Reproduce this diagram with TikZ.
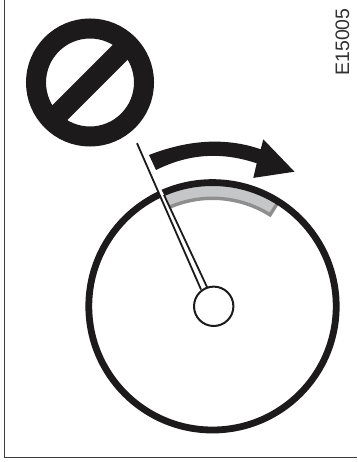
\documentclass[tikz,border=0pt]{standalone}
\usepackage{fontspec}
\setmainfont{Liberation Sans}
\definecolor{ink}{HTML}{1C1A1A}
\definecolor{bandfill}{HTML}{C4C6C8}
\definecolor{bandedge}{HTML}{8E8E8E}
\tikzset{
  framestyle/.style={draw=ink!85!white,line width=1.2pt},
  wheel/.style={draw=ink,line width=6.8pt},
  hubcircle/.style={draw=ink,line width=2pt,fill=white},
  needle/.style={draw=ink,line width=1.8pt},
  solidink/.style={fill=ink,draw=none}
}
\begin{document}
\begin{tikzpicture}[x=1pt,y=-1pt]
\useasboundingbox (0,0) rectangle (357,462);
\fill[white] (0,0) rectangle (357,462);
% frame
\draw[framestyle] (4.7,0) -- (4.7,457.8) -- (357,457.8);
% label
\node[rotate=90,inner sep=0pt,font=\fontsize{19.5}{19.5}\selectfont,text=ink!90!white] (code) at (342.5,42) {E15005};
% prohibition sign
\coordinate (signc) at (90,82.5);
\draw[ink,line width=20pt] (signc) circle (54);
\draw[ink,line width=21pt] (signc) ++(-38,38) -- ++(76,-76);
% curved arrow
\path[solidink] (149,155) .. controls (186,140.6) and (224,136.5) .. (260.7,149.3)
  -- (263.3,139.3) -- (294.5,171.7) -- (253.3,177.9) -- (256.7,163.3)
  .. controls (223,152) and (190,153) .. (156,170) -- cycle;
% gray band
\coordinate (wheelc) at (212.5,306.3);
\fill[bandfill] ([shift={(-116:122)}]wheelc) arc[start angle=-116,end angle=-58.5,radius=122]
  -- ([shift={(-58.5:108)}]wheelc) arc[start angle=-58.5,end angle=-116,radius=108] -- cycle;
\draw[bandedge,line width=3.4pt,miter limit=4] ([shift={(-114:108)}]wheelc) arc[start angle=-114,end angle=-57.8,radius=108]
  -- ([shift={(-57.8:122)}]wheelc);
% wheel
\draw[wheel] (wheelc) circle (123.7);
% needle
\coordinate (tip) at (137,143.2);
\coordinate (footl) at (201,289.5);
\coordinate (footr) at (207,287);
\coordinate (forkr) at (164,195);
\fill[white] (153,180) -- (156.5,180) -- (forkr) -- (footr) -- (footl) -- cycle;
\draw[needle] (tip) -- (footl);
\draw[needle] (forkr) -- (footr);
% hub
\node[circle,hubcircle,minimum size=39.4pt,inner sep=0pt] (hub) at (213.7,306.3) {};
\end{tikzpicture}
\end{document}
